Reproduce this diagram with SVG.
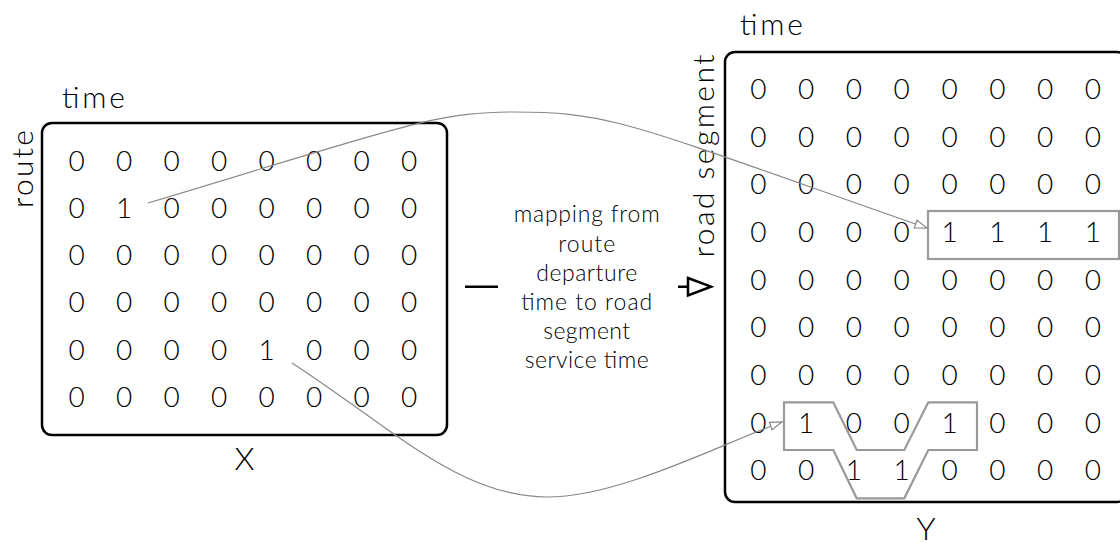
<svg xmlns="http://www.w3.org/2000/svg" width="1120" height="542" viewBox="0 0 1120 542">
  <style>
    text { font-family: Lato, "Open Sans", "Liberation Sans", sans-serif; font-weight: 300; fill: #000; }
    .cell { font-size: 28px; text-anchor: middle; }
    .axis { font-size: 30px; }
    .name { font-size: 32px; text-anchor: middle; }
    .note { font-size: 23px; text-anchor: middle; }
    .box { fill: #fff; stroke: #000; stroke-width: 2.5; }
    .hl { fill: none; stroke: #999; stroke-width: 2.2; }
    .link { fill: none; stroke: #888; stroke-width: 1.2; }
  </style>
  <defs>
    <marker id="openTri" markerUnits="userSpaceOnUse" markerWidth="16" markerHeight="12" refX="13" refY="5" orient="auto">
      <path d="M1,1 L13,5 L1,9 Z" fill="#fff" stroke="#888" stroke-width="1.2"/>
    </marker>
  </defs>

  <rect width="1120" height="542" fill="#fff"/>

  <!-- matrix X: route x time -->
  <g id="matrix-x">
    <rect class="box" x="42" y="123" width="405" height="312" rx="10"/>
    <text class="axis" x="62" y="108" textLength="63" lengthAdjust="spacing">time</text>
    <text class="axis" text-anchor="middle" textLength="78" lengthAdjust="spacing" transform="translate(33,169) rotate(-90)">route</text>
    <g class="cell">
      <text x="76.7" y="170.5">0</text><text x="124.2" y="170.5">0</text><text x="171.7" y="170.5">0</text><text x="219.2" y="170.5">0</text><text x="266.7" y="170.5">0</text><text x="314.2" y="170.5">0</text><text x="361.7" y="170.5">0</text><text x="409.2" y="170.5">0</text>
      <text x="76.7" y="217.8">0</text><text x="124.2" y="217.8">1</text><text x="171.7" y="217.8">0</text><text x="219.2" y="217.8">0</text><text x="266.7" y="217.8">0</text><text x="314.2" y="217.8">0</text><text x="361.7" y="217.8">0</text><text x="409.2" y="217.8">0</text>
      <text x="76.7" y="265.1">0</text><text x="124.2" y="265.1">0</text><text x="171.7" y="265.1">0</text><text x="219.2" y="265.1">0</text><text x="266.7" y="265.1">0</text><text x="314.2" y="265.1">0</text><text x="361.7" y="265.1">0</text><text x="409.2" y="265.1">0</text>
      <text x="76.7" y="312.4">0</text><text x="124.2" y="312.4">0</text><text x="171.7" y="312.4">0</text><text x="219.2" y="312.4">0</text><text x="266.7" y="312.4">0</text><text x="314.2" y="312.4">0</text><text x="361.7" y="312.4">0</text><text x="409.2" y="312.4">0</text>
      <text x="76.7" y="359.7">0</text><text x="124.2" y="359.7">0</text><text x="171.7" y="359.7">0</text><text x="219.2" y="359.7">0</text><text x="266.7" y="359.7">1</text><text x="314.2" y="359.7">0</text><text x="361.7" y="359.7">0</text><text x="409.2" y="359.7">0</text>
      <text x="76.7" y="407">0</text><text x="124.2" y="407">0</text><text x="171.7" y="407">0</text><text x="219.2" y="407">0</text><text x="266.7" y="407">0</text><text x="314.2" y="407">0</text><text x="361.7" y="407">0</text><text x="409.2" y="407">0</text>
    </g>
    <text class="name" x="244.5" y="470">X</text>
  </g>

  <!-- matrix Y: road segment x time -->
  <g id="matrix-y">
    <rect class="box" x="725" y="52" width="402" height="450" rx="10"/>
    <text class="axis" x="740" y="35" textLength="63" lengthAdjust="spacing">time</text>
    <text class="axis" text-anchor="middle" textLength="203" lengthAdjust="spacing" transform="translate(714,156) rotate(-90)">road segment</text>
    <g class="cell">
      <text x="758.3" y="98.8">0</text><text x="806.1" y="98.8">0</text><text x="853.9" y="98.8">0</text><text x="901.7" y="98.8">0</text><text x="949.5" y="98.8">0</text><text x="997.3" y="98.8">0</text><text x="1045.1" y="98.8">0</text><text x="1092.9" y="98.8">0</text>
      <text x="758.3" y="146.5">0</text><text x="806.1" y="146.5">0</text><text x="853.9" y="146.5">0</text><text x="901.7" y="146.5">0</text><text x="949.5" y="146.5">0</text><text x="997.3" y="146.5">0</text><text x="1045.1" y="146.5">0</text><text x="1092.9" y="146.5">0</text>
      <text x="758.3" y="194.2">0</text><text x="806.1" y="194.2">0</text><text x="853.9" y="194.2">0</text><text x="901.7" y="194.2">0</text><text x="949.5" y="194.2">0</text><text x="997.3" y="194.2">0</text><text x="1045.1" y="194.2">0</text><text x="1092.9" y="194.2">0</text>
      <text x="758.3" y="241.9">0</text><text x="806.1" y="241.9">0</text><text x="853.9" y="241.9">0</text><text x="901.7" y="241.9">0</text><text x="949.5" y="241.9">1</text><text x="997.3" y="241.9">1</text><text x="1045.1" y="241.9">1</text><text x="1092.9" y="241.9">1</text>
      <text x="758.3" y="289.6">0</text><text x="806.1" y="289.6">0</text><text x="853.9" y="289.6">0</text><text x="901.7" y="289.6">0</text><text x="949.5" y="289.6">0</text><text x="997.3" y="289.6">0</text><text x="1045.1" y="289.6">0</text><text x="1092.9" y="289.6">0</text>
      <text x="758.3" y="337.3">0</text><text x="806.1" y="337.3">0</text><text x="853.9" y="337.3">0</text><text x="901.7" y="337.3">0</text><text x="949.5" y="337.3">0</text><text x="997.3" y="337.3">0</text><text x="1045.1" y="337.3">0</text><text x="1092.9" y="337.3">0</text>
      <text x="758.3" y="385">0</text><text x="806.1" y="385">0</text><text x="853.9" y="385">0</text><text x="901.7" y="385">0</text><text x="949.5" y="385">0</text><text x="997.3" y="385">0</text><text x="1045.1" y="385">0</text><text x="1092.9" y="385">0</text>
      <text x="758.3" y="432.7">0</text><text x="806.1" y="432.7">1</text><text x="853.9" y="432.7">0</text><text x="901.7" y="432.7">0</text><text x="949.5" y="432.7">1</text><text x="997.3" y="432.7">0</text><text x="1045.1" y="432.7">0</text><text x="1092.9" y="432.7">0</text>
      <text x="758.3" y="480.4">0</text><text x="806.1" y="480.4">0</text><text x="853.9" y="480.4">1</text><text x="901.7" y="480.4">1</text><text x="949.5" y="480.4">0</text><text x="997.3" y="480.4">0</text><text x="1045.1" y="480.4">0</text><text x="1092.9" y="480.4">0</text>
    </g>
    <!-- highlighted service windows -->
    <rect class="hl" x="928" y="211" width="191" height="48"/>
    <path class="hl" d="M784,402.3 H833.3 L856.7,450 H904.3 L928.3,402.3 H977 V450 H928.3 L904.3,498.3 H856.7 L833.3,450 H784 Z"/>
    <text class="name" x="926" y="540">Y</text>
  </g>

  <!-- mapping between the two matrices -->
  <g id="mapping">
    <line x1="465" y1="286.7" x2="688" y2="286.7" stroke="#000" stroke-width="2.5"/>
    <path d="M688,278 L711,286.7 L688,295.4 Z" fill="#fff" stroke="#000" stroke-width="2.5"/>
    <rect x="498" y="200" width="180" height="178" fill="#fff"/>
    <g class="note">
      <text x="586.7" y="222.3" textLength="146" lengthAdjust="spacing">mapping from</text>
      <text x="586.7" y="251.6" textLength="57" lengthAdjust="spacing">route</text>
      <text x="586.7" y="280.8" textLength="101" lengthAdjust="spacing">departure</text>
      <text x="586.7" y="310" textLength="131" lengthAdjust="spacing">time to road</text>
      <text x="586.7" y="339.2" textLength="87" lengthAdjust="spacing">segment</text>
      <text x="586.7" y="368.4" textLength="124" lengthAdjust="spacing">service time</text>
    </g>
  </g>

  <!-- cell connectors -->
  <g id="connectors">
    <path class="link" marker-end="url(#openTri)" d="M148,203 C398,128 433,112 513,112 C613,112 627,123 927,228"/>
    <path class="link" marker-end="url(#openTri)" d="M292,363 C392,428 460,497 547,497 C620,497 722,443.6 782,422"/>
  </g>
</svg>
